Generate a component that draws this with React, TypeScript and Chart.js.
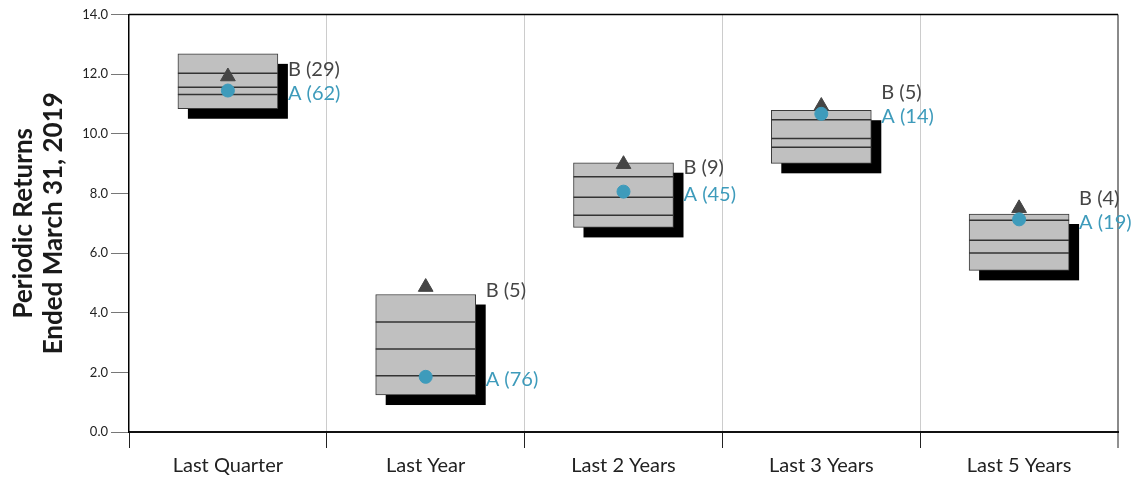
import React, { useEffect, useRef } from 'react';
import { Chart, registerables } from 'chart.js';

Chart.register(...registerables);

const categories = ['Last Quarter', 'Last Year', 'Last 2 Years', 'Last 3 Years', 'Last 5 Years'];
const p95 = [12.68, 4.61, 9.03, 10.79, 7.31];
const p75 = [12.03, 3.69, 8.56, 10.47, 7.1];
const p50 = [11.56, 2.78, 7.87, 9.84, 6.43];
const p25 = [11.32, 1.89, 7.27, 9.55, 6.0];
const p5 = [10.84, 1.24, 6.86, 9.01, 5.42];
const seriesB = [11.92, 4.86, 8.98, 10.93, 7.5];
const seriesA = [11.45, 1.85, 8.06, 10.67, 7.13];
const rankB = [29, 5, 9, 5, 4];
const rankA = [62, 76, 45, 14, 19];
const yTitle = ['Periodic Returns', 'Ended March 31, 2019'];

const FONT = 'Lato, "Open Sans", "DejaVu Sans", sans-serif';
const TEAL = '#3e9bbb';
const DARK = '#454545';

export default function App() {
  const ref = useRef<HTMLCanvasElement>(null);

  useEffect(() => {
    const canvas = ref.current;
    if (!canvas) return;

    const decor = {
      id: 'decor',
      beforeDatasetsDraw(chart: any) {
        const meta = chart.getDatasetMeta(0);
        const ctx = chart.ctx;
        ctx.save();
        ctx.fillStyle = '#000';
        meta.data.forEach((el: any) => {
          const p = el.getProps(['x', 'y', 'base', 'width'], true);
          const top = Math.min(p.y, p.base);
          const h = Math.abs(p.base - p.y);
          ctx.fillRect(p.x - p.width / 2 + 10, top + 10, p.width, h);
        });
        ctx.restore();
      },
      afterDatasetDraw(chart: any, args: any) {
        if (args.index !== 0) return;
        const meta = chart.getDatasetMeta(0);
        const yScale = chart.scales.y;
        const ctx = chart.ctx;
        ctx.save();
        ctx.strokeStyle = '#333';
        ctx.lineWidth = 1.5;
        meta.data.forEach((el: any, i: number) => {
          const p = el.getProps(['x', 'width'], true);
          [p75[i], p50[i], p25[i]].forEach((v) => {
            const y = yScale.getPixelForValue(v);
            ctx.beginPath();
            ctx.moveTo(p.x - p.width / 2, y);
            ctx.lineTo(p.x + p.width / 2, y);
            ctx.stroke();
          });
        });
        ctx.restore();
      },
      afterDatasetsDraw(chart: any) {
        const meta = chart.getDatasetMeta(0);
        const yScale = chart.scales.y;
        const ctx = chart.ctx;
        ctx.save();
        ctx.font = `20px ${FONT}`;
        ctx.textBaseline = 'middle';
        ctx.textAlign = 'left';
        meta.data.forEach((el: any, i: number) => {
          const p = el.getProps(['x', 'width'], true);
          const lx = p.x + p.width / 2 + 10;
          const aY = yScale.getPixelForValue(seriesA[i]) + 3;
          const bY = Math.min(yScale.getPixelForValue(seriesB[i]) + 3, aY - 24);
          ctx.fillStyle = DARK;
          ctx.fillText(`B (${rankB[i]})`, lx, bY);
          ctx.fillStyle = TEAL;
          ctx.fillText(`A (${rankA[i]})`, lx, aY);
        });
        const a = chart.chartArea;
        ctx.strokeStyle = '#000';
        ctx.lineWidth = 1.5;
        ctx.beginPath();
        ctx.moveTo(a.left, a.top);
        ctx.lineTo(a.right, a.top);
        ctx.stroke();
        ctx.restore();
      },
    };

    const chart = new Chart(canvas, {
      type: 'bar',
      data: {
        labels: categories,
        datasets: [
          {
            type: 'bar',
            label: 'Range',
            data: categories.map((_, i) => [p5[i], p95[i]]) as any,
            backgroundColor: '#c0c0c0',
            borderColor: '#3a3a3a',
            borderWidth: 1,
            borderSkipped: false,
            barThickness: 100,
            order: 3,
          } as any,
          {
            type: 'line',
            label: 'B',
            data: seriesB,
            showLine: false,
            pointStyle: 'triangle',
            pointRadius: 8.5,
            pointBackgroundColor: DARK,
            pointBorderColor: DARK,
            pointBorderWidth: 1,
            order: 2,
          } as any,
          {
            type: 'line',
            label: 'A',
            data: seriesA,
            showLine: false,
            pointStyle: 'circle',
            pointRadius: 6.5,
            pointBackgroundColor: TEAL,
            pointBorderColor: TEAL,
            pointBorderWidth: 1,
            order: 1,
          } as any,
        ],
      },
      options: {
        animation: false,
        responsive: true,
        maintainAspectRatio: false,
        layout: { padding: { top: 3, right: 21, left: 0, bottom: 0 } },
        plugins: {
          legend: { display: false },
          tooltip: { enabled: false },
        },
        scales: {
          x: {
            offset: true,
            grid: {
              offset: true,
              drawOnChartArea: true,
              color: (c: any) =>
                c.type === 'scale' ? '#8a8a8a' : c.index === 0 ? 'rgba(0,0,0,0)' : '#cccccc',
              lineWidth: (c: any) => (c.type === 'scale' ? 2 : 1),
              tickColor: '#222',
              tickLength: 16,
              tickWidth: 1,
            },
            border: { color: '#111', width: 2 },
            ticks: {
              color: '#222',
              font: { family: FONT, size: 20 },
              padding: 6,
              maxRotation: 0,
              autoSkip: false,
            },
            afterFit: (s: any) => {
              s.height = 43;
              s.paddingLeft = 0;
              s.paddingRight = 0;
            },
          },
          y: {
            min: 0,
            max: 14,
            ticks: {
              stepSize: 2,
              color: '#222',
              font: { family: FONT, size: 13, lineHeight: 1 },
              padding: 3,
              callback: (v: any) => Number(v).toFixed(1),
            },
            grid: {
              drawOnChartArea: false,
              tickLength: 18,
              color: '#777',
              tickColor: '#777',
            },
            border: { color: '#000', width: 1.5 },
            title: {
              display: true,
              text: yTitle,
              color: '#1a1a1a',
              font: { family: FONT, size: 26, weight: 'bold', lineHeight: '30px' as any },
              padding: { top: 1, bottom: 0 },
            },
            afterFit: (s: any) => {
              s.width = 121;
              s.paddingTop = 0;
              s.paddingBottom = 0;
            },
          },
        },
      },
      plugins: [decor],
    });

    return () => chart.destroy();
  }, []);

  return (
    <div style={{ position: 'absolute', left: 8, top: 5, width: 1131, height: 470 }}>
      <canvas ref={ref} />
    </div>
  );
}
